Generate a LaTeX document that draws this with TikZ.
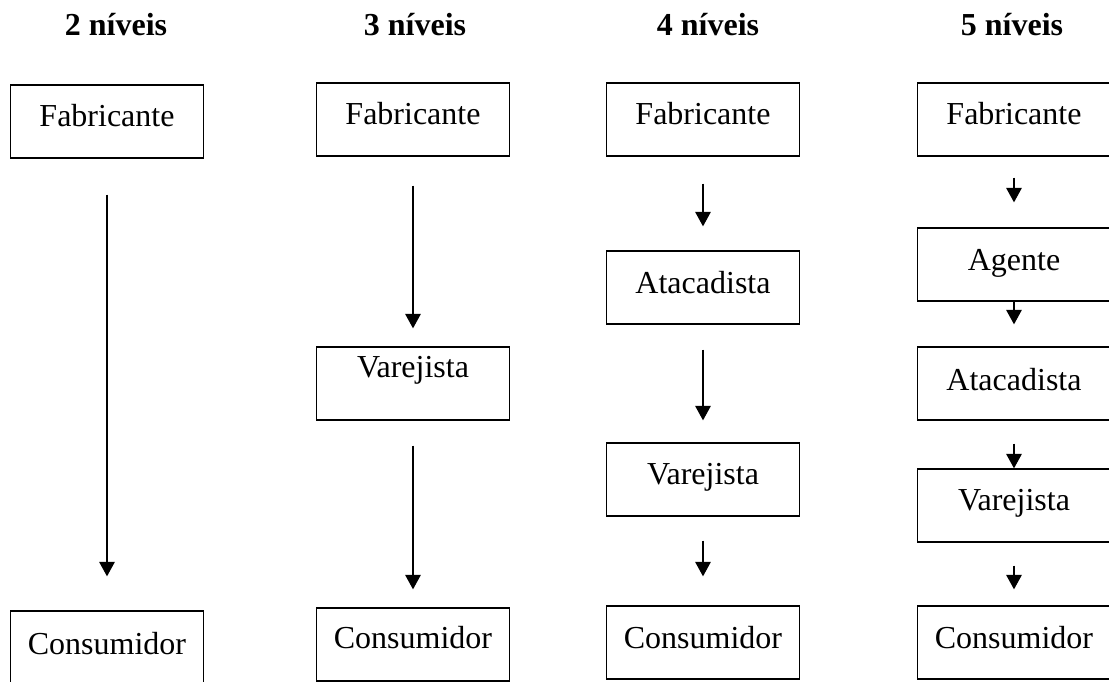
\documentclass[tikz,border=0pt]{standalone}
\usepackage{fontspec}
\setmainfont{Liberation Serif}
\usetikzlibrary{arrows.meta}

\tikzset{
  box/.style={draw, line width=1.3pt, minimum width=193pt, minimum height=73pt,
    inner sep=0pt, text height=22pt, text depth=#1,
    font=\fontsize{32}{36}\selectfont},
  box/.default=11pt,
  head/.style={anchor=base, inner sep=0pt,
    font=\fontsize{32}{36}\selectfont\bfseries},
  arr/.style={line width=1.5pt, -{Triangle[width=15.5pt,length=14.5pt]}}
}

\begin{document}
\begin{tikzpicture}[x=1pt,y=-1pt]
\useasboundingbox (0,0) rectangle (1109,682);
\clip (0,0) rectangle (1109,682);

% column headings
\node[head] (h2) at (116,36) {2 níveis};
\node[head] (h3) at (415,36) {3 níveis};
\node[head] (h4) at (708,36) {4 níveis};
\node[head] (h5) at (1012,36) {5 níveis};

% two levels
\node[box] (f2) at (107,121.5) {Fabricante};
\node[box=16pt, minimum height=80pt] (c2) at (107,651) {Consumidor};
\draw[arr, shorten <=36pt, shorten >=34pt] (f2) -- (c2);

% three levels
\node[box] (f3) at (413,119.5) {Fabricante};
\node[box=35pt] (v3) at (413,383.5) {Varejista};
\node[box=15pt] (c3) at (413,644.5) {Consumidor};
\draw[arr, shorten <=29pt, shorten >=18pt] (f3) -- (v3);
\draw[arr, shorten <=25pt, shorten >=18pt] (v3) -- (c3);

% four levels
\node[box] (f4) at (703,119.5) {Fabricante};
\node[box] (a4) at (703,287.5) {Atacadista};
\node[box=13pt] (v4) at (703,479.5) {Varejista};
\node[box] (c4) at (703,642.5) {Consumidor};
\draw[arr, shorten <=27pt, shorten >=24pt] (f4) -- (a4);
\draw[arr, shorten <=25pt, shorten >=22pt] (a4) -- (v4);
\draw[arr, shorten <=24pt, shorten >=29pt] (v4) -- (c4);

% five levels
\begin{scope}[every node/.append style={minimum width=195pt}]
\node[box] (f5) at (1014,119.5) {Fabricante};
\node[box] (g5) at (1014,264.5) {Agente};
\node[box=9pt] (a5) at (1014,383.5) {Atacadista};
\node[box=13pt] (v5) at (1014,505.5) {Varejista};
\node[box] (c5) at (1014,642.5) {Consumidor};
\end{scope}
\draw[arr, shorten <=21pt, shorten >=25pt] (f5) -- (g5);
\draw[arr, shorten >=22pt] (g5) -- (a5);
\draw[arr, shorten <=23pt] (a5) -- (v5);
\draw[arr, shorten <=23pt, shorten >=16pt] (v5) -- (c5);
\end{tikzpicture}
\end{document}
